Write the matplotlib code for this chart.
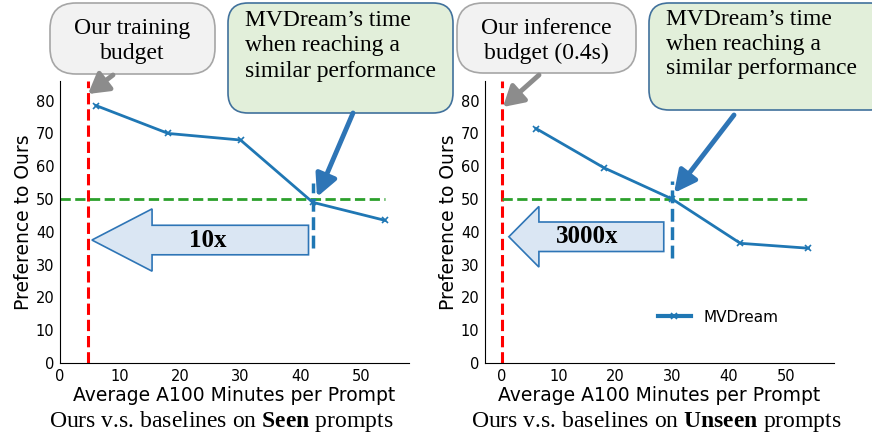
import matplotlib
matplotlib.use('Agg')
import matplotlib.pyplot as plt
from matplotlib.patches import FancyBboxPatch, FancyArrow, FancyArrowPatch
from matplotlib.transforms import IdentityTransform

plt.rcParams['font.family'] = 'DejaVu Sans'
plt.rcParams['mathtext.fontset'] = 'custom'
plt.rcParams['mathtext.rm'] = 'Liberation Serif'
plt.rcParams['mathtext.bf'] = 'Liberation Serif:bold'

# data
minutes = [6, 18, 30, 42, 54]
pref_seen = [78.5, 70, 68, 49, 43.5]
pref_unseen = [71.5, 59.5, 50, 36.5, 35]
our_budget = [4.6, 0]          # red dashed lines
match_time = [42, 30]          # blue dashed lines
speedup = ['10x', '3000x']
titles = [r'Ours v.s. baselines on $\bf{Seen}$ prompts',
          r'Ours v.s. baselines on $\bf{Unseen}$ prompts']
budget_text = ['Our training\nbudget', 'Our inference\nbudget (0.4s)']
mv_text = "MVDream\u2019s time\nwhen reaching a\nsimilar performance"

W, H = 872, 436
fig = plt.figure(figsize=(W / 100, H / 100), dpi=100)
ident = IdentityTransform()


def fp(x, y):
    # top-left pixel -> figure pixel (bottom-left origin)
    return (x, H - y)


serif = 'Liberation Serif'
line_c = '#1f77b4'
arrow_fc = '#dae6f3'
arrow_ec = '#2e75b6'

ax1 = fig.add_axes([60 / W, 73 / H, 349 / W, 282 / H])
ax2 = fig.add_axes([485 / W, 73 / H, 349 / W, 282 / H])

series = [pref_seen, pref_unseen]
xlims = [(0, 58), (-3, 58.5)]
vl_span = [(35, 55), (32, 55.5)]
# block arrow: tail x, tip x, y, body width, head width, head length, text x
blocks = [(41.3, 5.3, 37.5, 9, 19, 10, 24.5), (28.5, 1.2, 38.5, 9, 18.5, 5.3, 15)]

for i, ax in enumerate([ax1, ax2]):
    ax.plot(minutes, series[i], color=line_c, lw=2, marker='x', ms=5,
            mew=1.2, label='MVDream', zorder=3)
    ax.axvline(our_budget[i], color='red', ls='--', lw=2.2)
    ax.hlines(50, our_budget[i] if i == 1 else 0, 54, color='#2ca02c', ls='--', lw=2)
    ax.vlines(match_time[i], vl_span[i][0], vl_span[i][1], color=line_c, ls='--', lw=2.5)
    tail, tip, yy, bw, hw, hl, tx = blocks[i]
    ax.add_patch(FancyArrow(tail, yy, tip - tail, 0, width=bw, head_width=hw,
                            head_length=hl, length_includes_head=True,
                            fc=arrow_fc, ec=arrow_ec, lw=1.2, zorder=2))
    ax.text(tx, yy, speedup[i], family=serif, weight='bold', fontsize=18,
            ha='center', va='center', zorder=4)
    ax.set_xlim(*xlims[i])
    ax.set_ylim(0, 86)
    ax.set_xticks([0, 10, 20, 30, 40, 50])
    ax.set_yticks(range(0, 81, 10))
    ax.tick_params(length=0, labelsize=10.5, pad=4)
    for s in ['top', 'right']:
        ax.spines[s].set_visible(False)
    ax.set_xlabel('Average A100 Minutes per Prompt', fontsize=13.5, labelpad=2)
    ax.set_ylabel('Preference to Ours', fontsize=13.5, labelpad=2)

leg = ax2.legend(loc='center left', bbox_to_anchor=(0.455, 0.163), frameon=False,
                 fontsize=11, handlelength=2.2)
for h in leg.get_lines():
    h.set_linewidth(3)

# titles under each chart
fig.text(221 / W, 1 - 421 / H, titles[0], family=serif, fontsize=17,
         ha='center', va='center')
fig.text(656 / W, 1 - 421 / H, titles[1], family=serif, fontsize=17,
         ha='center', va='center')

# callout boxes (x0, y0, x1, y1 in top-left pixels)
gray_boxes = [(50, 3, 215, 74), (457, 3, 636, 73)]
green_boxes = [(228, 3, 453, 113), (649, 3, 890, 110)]
for (x0, y0, x1, y1) in gray_boxes:
    fig.add_artist(FancyBboxPatch(fp(x0, y1), x1 - x0, y1 - y0,
                                  boxstyle='round,pad=0,rounding_size=26',
                                  fc='#f2f2f2', ec='#a6a6a6', lw=1.2,
                                  transform=ident))
for (x0, y0, x1, y1) in green_boxes:
    fig.add_artist(FancyBboxPatch(fp(x0, y1), x1 - x0, y1 - y0,
                                  boxstyle='round,pad=0,rounding_size=20',
                                  fc='#e2efda', ec='#41719c', lw=1.2,
                                  transform=ident))

fig.text(132 / W, 1 - 41 / H, budget_text[0], family=serif, fontsize=17,
         ha='center', va='center', linespacing=1.25)
fig.text(546 / W, 1 - 41 / H, budget_text[1], family=serif, fontsize=17,
         ha='center', va='center', linespacing=1.25)
fig.text(245 / W, 1 - 46 / H, mv_text, family=serif, fontsize=17,
         ha='left', va='center', linespacing=1.25)
fig.text(666 / W, 1 - 44 / H, mv_text, family=serif, fontsize=17,
         ha='left', va='center', linespacing=1.2)

# callout arrows
gray_arrows = [((113, 75), (88, 94)), ((539, 75), (503, 107))]
blue_arrows = [((353, 113), (317, 197)), ((734, 115), (674, 193))]
for a, b in gray_arrows:
    fig.add_artist(FancyArrowPatch(fp(*a), fp(*b), transform=ident,
                                   arrowstyle='-|>,head_length=0.6,head_width=0.35',
                                   mutation_scale=20, lw=3.5, color='#8c8c8c',
                                   shrinkA=0, shrinkB=0))
for a, b in blue_arrows:
    fig.add_artist(FancyArrowPatch(fp(*a), fp(*b), transform=ident,
                                   arrowstyle='-|>,head_length=0.6,head_width=0.3',
                                   mutation_scale=22, lw=3.5, color=arrow_ec,
                                   shrinkA=0, shrinkB=0))

fig.savefig('out.png', dpi=100)
